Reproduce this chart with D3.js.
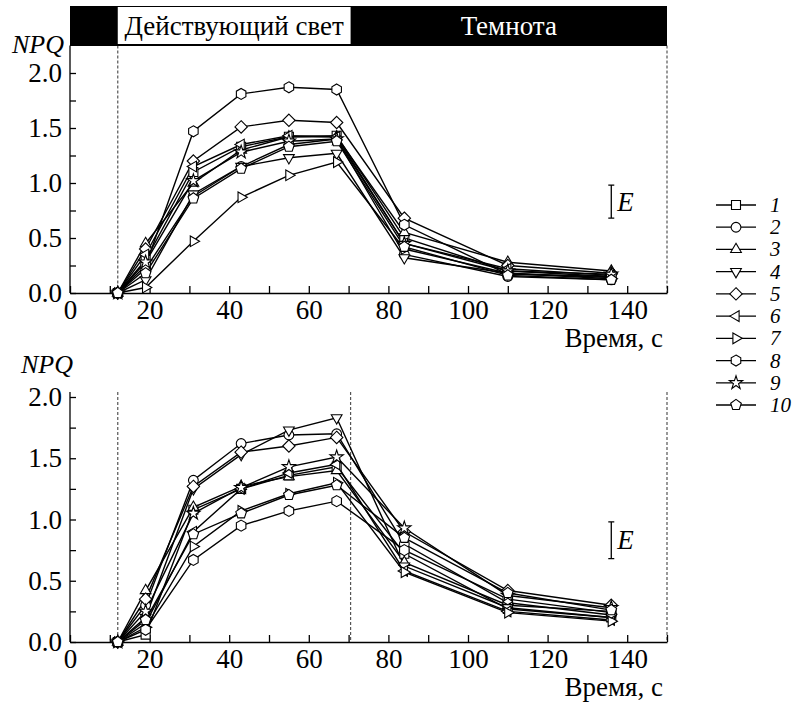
<!DOCTYPE html>
<html>
<head>
<meta charset="utf-8">
<script src="https://cdn.jsdelivr.net/npm/d3@7"></script>
<style>
  body { margin: 0; background: #fff; }
  svg text { font-family: "Liberation Serif", "Times New Roman", serif; }
</style>
</head>
<body>
<div id="chart"></div>
<script>
// time points, s
var times = [12, 19, 31, 43, 55, 67, 84, 110, 136];
var seriesNames = ["1", "2", "3", "4", "5", "6", "7", "8", "9", "10"];
var markerTypes = ["square", "circle", "up", "down", "diamond", "left", "right", "hexagon", "star", "pentagon"];

// upper panel NPQ values, one row per series
var topValues = [
  [0, 0.30, 1.10, 1.33, 1.42, 1.43, 0.50, 0.20, 0.15],
  [0, 0.22, 0.88, 1.15, 1.35, 1.40, 0.35, 0.15, 0.12],
  [0, 0.45, 1.00, 1.30, 1.42, 1.42, 0.55, 0.28, 0.20],
  [0, 0.12, 0.90, 1.15, 1.23, 1.27, 0.32, 0.18, 0.14],
  [0, 0.40, 1.20, 1.51, 1.57, 1.55, 0.68, 0.25, 0.18],
  [0, 0.35, 1.15, 1.35, 1.43, 1.42, 0.45, 0.22, 0.16],
  [0, 0.05, 0.47, 0.87, 1.07, 1.19, 0.40, 0.18, 0.13],
  [0, 0.25, 1.47, 1.81, 1.87, 1.85, 0.62, 0.17, 0.15],
  [0, 0.28, 1.02, 1.28, 1.38, 1.40, 0.45, 0.20, 0.17],
  [0, 0.18, 0.86, 1.13, 1.33, 1.38, 0.42, 0.16, 0.12]
];

// lower panel NPQ values
var bottomValues = [
  [0, 0.06, 1.08, 1.25, 1.36, 1.43, 0.72, 0.27, 0.20],
  [0, 0.30, 1.32, 1.62, 1.69, 1.70, 0.80, 0.32, 0.22],
  [0, 0.42, 1.10, 1.27, 1.35, 1.40, 0.65, 0.30, 0.25],
  [0, 0.20, 1.25, 1.53, 1.73, 1.83, 0.62, 0.28, 0.20],
  [0, 0.35, 1.27, 1.55, 1.60, 1.67, 0.90, 0.42, 0.30],
  [0, 0.15, 0.90, 1.25, 1.38, 1.45, 0.58, 0.25, 0.18],
  [0, 0.12, 0.78, 1.07, 1.21, 1.30, 0.57, 0.24, 0.17],
  [0, 0.10, 0.67, 0.95, 1.07, 1.15, 0.75, 0.35, 0.24],
  [0, 0.25, 1.05, 1.26, 1.43, 1.51, 0.93, 0.38, 0.28],
  [0, 0.18, 0.88, 1.05, 1.20, 1.28, 0.85, 0.40, 0.26]
];

// light periods and error bar
var lightOn = 12, lightOff = 70.5, endTime = 150;
var errorBar = [0.68, 0.98], errorTime = 136;
var xTicks = d3.range(0, 151, 10);
var yTicks = d3.range(0, 2.01, 0.25);

var fontStack = "\"Liberation Serif\", \"Times New Roman\", serif";

var svg = d3.select("#chart").append("svg")
  .attr("width", 803)
  .attr("height", 702)
  .style("font-family", fontStack);

var x = d3.scaleLinear().domain([0, 150]).range([70, 667]);
var legendY = d3.scalePoint().domain(seriesNames).range([205, 405]);

function polygon(n, r, rot) {
  var pts = d3.range(n).map(function(i) {
    var a = rot + i * 2 * Math.PI / n;
    return [r * Math.cos(a), r * Math.sin(a)];
  });
  return "M" + pts.join("L") + "Z";
}

function markerPath(type) {
  var deg = Math.PI / 180;
  switch (type) {
    case "square": return "M-4.5,-4.5H4.5V4.5H-4.5Z";
    case "circle": return d3.symbol(d3.symbolCircle, 75)();
    case "up": return polygon(3, 6.2, -90 * deg);
    case "down": return polygon(3, 6.2, 90 * deg);
    case "left": return polygon(3, 6.2, 180 * deg);
    case "right": return polygon(3, 6.2, 0);
    case "diamond": return polygon(4, 6.2, -90 * deg);
    case "hexagon": return polygon(6, 5.5, -90 * deg);
    case "star": return d3.symbol(d3.symbolStar, 55)();
    case "pentagon": return polygon(5, 5.6, -90 * deg);
  }
}

function drawPanel(values, y, top, dashes, labelY) {
  var g = svg.append("g");

  // dashed period boundaries
  g.selectAll(".dash").data(dashes).enter().append("line")
    .attr("x1", d => x(d)).attr("x2", d => x(d))
    .attr("y1", top).attr("y2", y(0))
    .attr("stroke", "#555").attr("stroke-width", 1.2)
    .attr("stroke-dasharray", "3,2");

  var xAxis = g.append("g")
    .attr("transform", "translate(0," + y(0) + ")")
    .call(d3.axisBottom(x).tickValues(xTicks).tickSize(-7).tickSizeOuter(0).tickPadding(7)
      .tickFormat(d => (d % 20 === 0 && d < 150) ? d : ""));

  var yAxis = g.append("g")
    .attr("transform", "translate(" + x(0) + ",0)")
    .call(d3.axisLeft(y).tickValues(yTicks).tickSize(-6).tickSizeOuter(0).tickPadding(8)
      .tickFormat(d => (Math.abs(d * 2 - Math.round(d * 2)) < 1e-6) ? d.toFixed(1) : ""));
  yAxis.select(".domain").attr("d", "M0," + top + "V" + y(0));

  [xAxis, yAxis].forEach(function(a) {
    a.attr("font-family", null);
    a.selectAll("text").attr("font-size", 27).attr("fill", "#000");
    a.selectAll("line, path").attr("stroke", "#000").attr("stroke-width", 1.3);
  });

  // error bar
  g.append("path")
    .attr("d", "M" + (x(errorTime) - 3) + "," + y(errorBar[1]) + "h6M" + x(errorTime) + "," + y(errorBar[1]) +
      "V" + y(errorBar[0]) + "M" + (x(errorTime) - 3) + "," + y(errorBar[0]) + "h6")
    .attr("stroke", "#000").attr("stroke-width", 1.3).attr("fill", "none");
  g.append("text")
    .attr("x", x(errorTime) + 6).attr("y", y((errorBar[0] + errorBar[1]) / 2) + 9)
    .attr("font-size", 27).attr("font-style", "italic").text("E");

  var line = d3.line().x((d, i) => x(times[i])).y(d => y(d));

  values.forEach(function(row, s) {
    g.append("path").datum(row)
      .attr("d", line)
      .attr("fill", "none").attr("stroke", "#000").attr("stroke-width", 1.4);
  });
  values.forEach(function(row, s) {
    g.selectAll(".m" + s).data(row).enter().append("path")
      .attr("transform", (d, i) => "translate(" + x(times[i]) + "," + y(d) + ")")
      .attr("d", markerPath(markerTypes[s]))
      .attr("fill", "#fff").attr("stroke", "#000").attr("stroke-width", 1.1);
  });

  g.append("text")
    .attr("x", 663).attr("y", labelY)
    .attr("text-anchor", "end").attr("font-size", 27)
    .text("Время, с");
}

// upper panel
var yTop = d3.scaleLinear().domain([0, 2.25]).range([293, 45.5]);
drawPanel(topValues, yTop, yTop(2.25), [lightOn, endTime], 347);

// light/dark bar above upper panel
svg.append("rect")
  .attr("x", x(0)).attr("y", 6).attr("width", x(endTime) - x(0)).attr("height", 40)
  .attr("fill", "#000");
svg.append("rect")
  .attr("x", x(lightOn)).attr("y", 7).attr("width", x(lightOff) - x(lightOn)).attr("height", 37)
  .attr("fill", "#fff");
svg.append("text")
  .attr("x", (x(lightOn) + x(lightOff)) / 2).attr("y", 35)
  .attr("text-anchor", "middle").attr("font-size", 27)
  .text("Действующий свет");
svg.append("text")
  .attr("x", (x(lightOff) + x(endTime)) / 2).attr("y", 35)
  .attr("text-anchor", "middle").attr("font-size", 27).attr("fill", "#fff")
  .text("Темнота");

svg.append("text")
  .attr("x", 12).attr("y", 53)
  .attr("font-size", 26).attr("font-style", "italic")
  .text("NPQ");

// lower panel
var yBot = d3.scaleLinear().domain([0, 2]).range([642, 397]);
drawPanel(bottomValues, yBot, 392, [lightOn, lightOff, endTime], 696);

svg.append("text")
  .attr("x", 73).attr("y", 373)
  .attr("text-anchor", "end")
  .attr("font-size", 26).attr("font-style", "italic")
  .text("NPQ");

// legend
var legend = svg.append("g").selectAll("g").data(seriesNames).enter().append("g")
  .attr("transform", d => "translate(0," + legendY(d) + ")");
legend.append("line")
  .attr("x1", 716).attr("x2", 756)
  .attr("stroke", "#000").attr("stroke-width", 1.3);
legend.append("path")
  .attr("transform", "translate(736,0)")
  .attr("d", (d, i) => markerPath(markerTypes[i]))
  .attr("fill", "#fff").attr("stroke", "#000").attr("stroke-width", 1.1);
legend.append("text")
  .attr("x", 770).attr("y", 7)
  .attr("font-size", 21).attr("font-style", "italic")
  .text(d => d);
</script>
</body>
</html>
